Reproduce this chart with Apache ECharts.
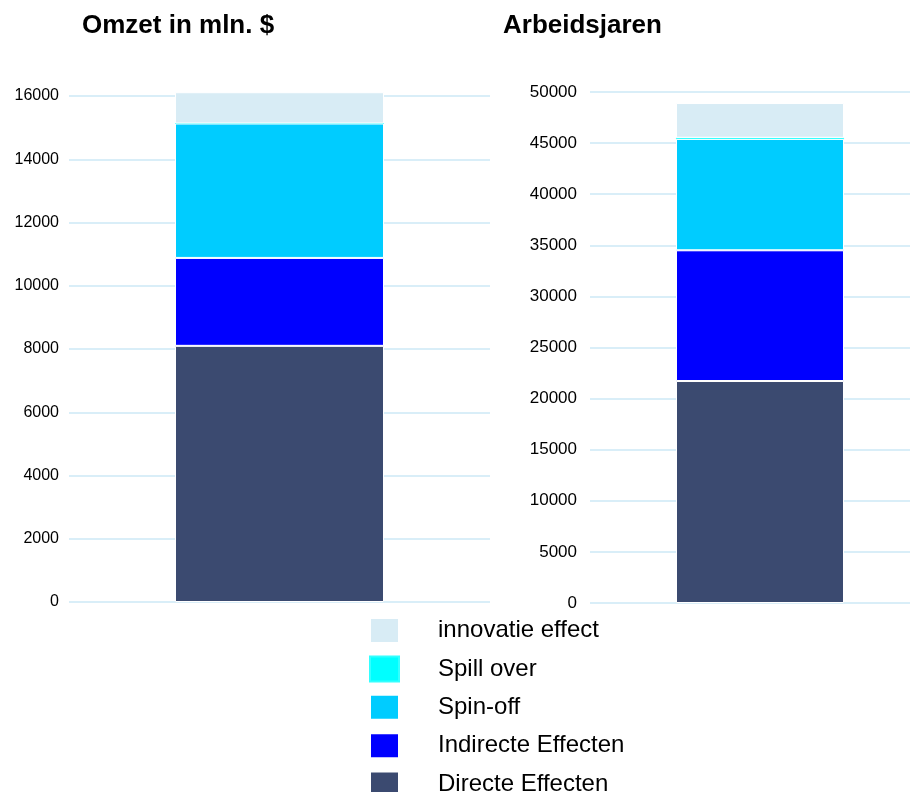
<!DOCTYPE html>
<html>
<head>
<meta charset="utf-8">
<script src="https://cdn.jsdelivr.net/npm/echarts@6/dist/echarts.min.js"></script>
<style>
  html, body { margin: 0; padding: 0; background: #ffffff; }
  #chart { width: 910px; height: 792px; }
</style>
</head>
<body>
<div id="chart"></div>
<script>
// Effect categories, stacked bottom to top
const seriesNames = ['Directe Effecten', 'Indirecte Effecten', 'Spin-off', 'Spill over', 'innovatie effect'];
const seriesColors = ['#3b4a70', '#0000ff', '#00ccff', '#00ffff', '#d8ecf5'];

// Turnover (mln. $) per effect
const omzetValues = [8100, 2780, 4250, 0, 990];
// Labour years per effect
const arbeidsjarenValues = [21720, 12790, 10890, 120, 3400];

const omzetTicks = { min: 0, max: 16000, interval: 2000 };
const arbeidsjarenTicks = { min: 0, max: 50000, interval: 5000 };

const titles = ['Omzet in mln. $', 'Arbeidsjaren'];
const legendOrder = ['innovatie effect', 'Spill over', 'Spin-off', 'Indirecte Effecten', 'Directe Effecten'];

const FONT = 'Liberation Sans, Arial, sans-serif';
const gridLineColor = '#d9eef8';

function makeSeries(values, axisIndex, width) {
  return seriesNames.map((name, i) => ({
    name: name,
    type: 'bar',
    stack: 'total' + axisIndex,
    xAxisIndex: axisIndex,
    yAxisIndex: axisIndex,
    barWidth: width,
    clip: false,
    data: [values[i]],
    itemStyle: {
      color: seriesColors[i],
      borderColor: name === 'Spill over' ? '#33ffff' : '#ffffff',
      borderWidth: name === 'Spill over' ? 0.6 : 1
    },
    emphasis: { disabled: true },
    animation: false
  }));
}

const plainNumber = v => String(v);

const chart = echarts.init(document.getElementById('chart'), null, { renderer: 'canvas' });

chart.setOption({
  backgroundColor: '#ffffff',
  animation: false,
  title: [
    {
      text: titles[0], left: 82, top: 13, padding: 0,
      textStyle: { fontFamily: FONT, fontSize: 26, fontWeight: 'bold', color: '#000000' }
    },
    {
      text: titles[1], left: 503, top: 13, padding: 0,
      textStyle: { fontFamily: FONT, fontSize: 26, fontWeight: 'bold', color: '#000000' }
    }
  ],
  legend: {
    data: legendOrder,
    orient: 'vertical',
    left: 369,
    top: 617,
    height: 220,
    padding: 0,
    icon: 'rect',
    itemWidth: 29,
    itemHeight: 25,
    itemGap: 11.4,
    selectedMode: false,
    textStyle: {
      fontFamily: FONT,
      fontSize: 24,
      color: '#000000',
      lineHeight: 25,
      padding: [0, 0, 0, 34]
    }
  },
  grid: [
    { left: 69, top: 96, width: 421, bottom: 190, outerBoundsMode: 'none' },
    { left: 590, top: 92, width: 340, bottom: 189, outerBoundsMode: 'none' }
  ],
  xAxis: [
    { type: 'category', gridIndex: 0, data: [''], show: false },
    { type: 'category', gridIndex: 1, data: [''], show: false }
  ],
  yAxis: [
    {
      type: 'value', gridIndex: 0,
      min: omzetTicks.min, max: omzetTicks.max, interval: omzetTicks.interval,
      axisLine: { show: false }, axisTick: { show: false },
      axisLabel: { margin: 10, fontFamily: FONT, fontSize: 16, color: '#000000', formatter: plainNumber },
      splitLine: { lineStyle: { color: gridLineColor, width: 2 } }
    },
    {
      type: 'value', gridIndex: 1,
      min: arbeidsjarenTicks.min, max: arbeidsjarenTicks.max, interval: arbeidsjarenTicks.interval,
      axisLine: { show: false }, axisTick: { show: false },
      axisLabel: { margin: 13, fontFamily: FONT, fontSize: 17, color: '#000000', formatter: plainNumber },
      splitLine: { lineStyle: { color: gridLineColor, width: 2 } }
    }
  ],
  series: makeSeries(omzetValues, 0, 209).concat(makeSeries(arbeidsjarenValues, 1, 168))
});
</script>
</body>
</html>
